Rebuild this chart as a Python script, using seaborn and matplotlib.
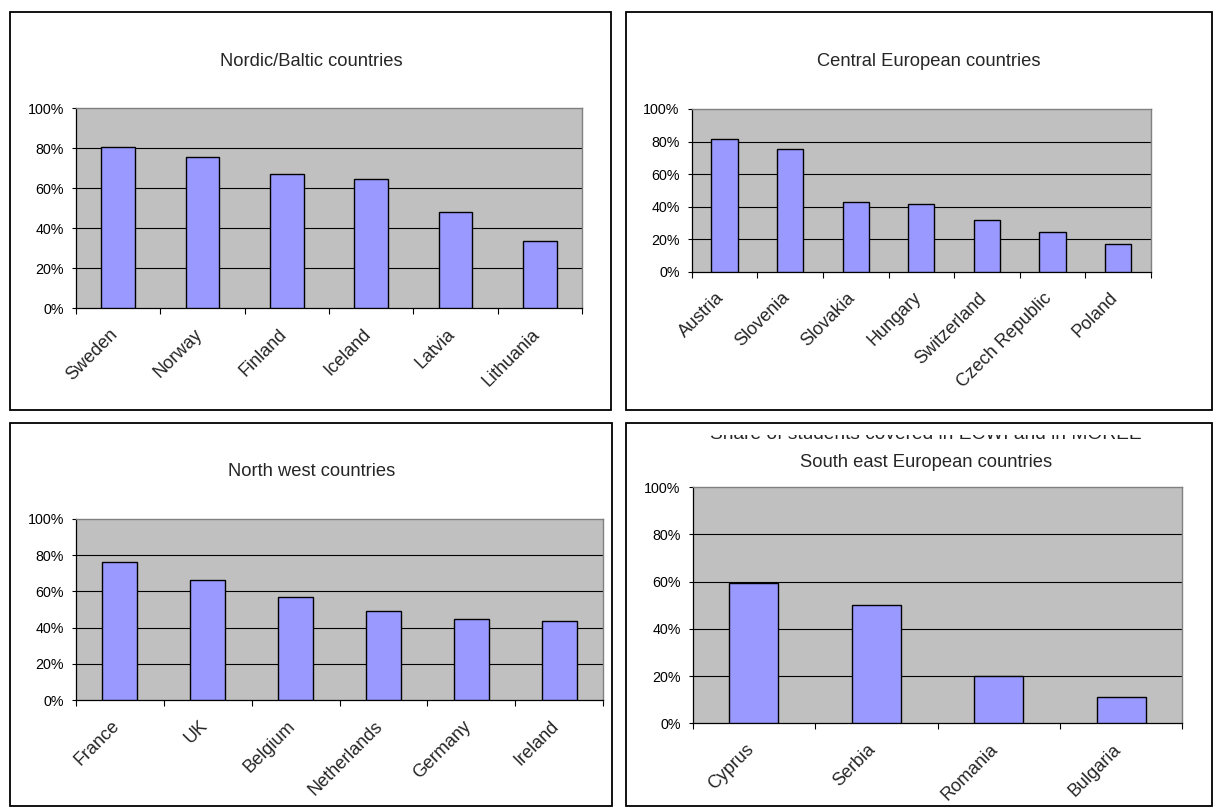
import numpy as np
import pandas as pd
import matplotlib
matplotlib.use("Agg")
import matplotlib.pyplot as plt
from matplotlib.patches import Rectangle
from matplotlib.transforms import Bbox, TransformedBbox, ScaledTranslation
import seaborn as sns

# ---------------- data ----------------
nordic_countries = ["Sweden", "Norway", "Finland", "Iceland", "Latvia", "Lithuania"]
nordic_values = [80.5, 75.8, 67.3, 64.8, 48.0, 33.7]

central_countries = ["Austria", "Slovenia", "Slovakia", "Hungary", "Switzerland",
                     "Czech Republic", "Poland"]
central_values = [81.4, 75.5, 43.1, 41.6, 32.0, 24.7, 17.1]

northwest_countries = ["France", "UK", "Belgium", "Netherlands", "Germany", "Ireland"]
northwest_values = [76.0, 66.1, 56.7, 49.4, 44.6, 43.9]

southeast_countries = ["Cyprus", "Serbia", "Romania", "Bulgaria"]
southeast_values = [59.3, 50.1, 20.2, 11.1]

titles = ["Nordic/Baltic countries", "Central European countries",
          "North west countries", "South east European countries"]
hidden_title = "Share of students covered in ECWI and in MOREE"
y_ticks = [0, 20, 40, 60, 80, 100]
y_tick_labels = ["0%", "20%", "40%", "60%", "80%", "100%"]

# ---------------- style ----------------
sns.set_style("white")
plt.rcParams["font.family"] = ["Liberation Sans", "DejaVu Sans"]

W, H = 1215, 811
fig = plt.figure(figsize=(W / 100, H / 100), dpi=100)
fig.patch.set_facecolor("white")


def fx(px):
    return px / W


def fy(py):
    return 1 - py / H


# outer boxes (pixel coords: x0, y0, x1, y1)
boxes = [(10, 12, 611, 410), (626, 12, 1212, 410),
         (10, 423, 612, 806), (626, 423, 1212, 806)]
for x0, y0, x1, y1 in boxes:
    fig.add_artist(Rectangle((fx(x0), fy(y1)), fx(x1 - x0), (y1 - y0) / H,
                             transform=fig.transFigure, fill=False,
                             edgecolor="black", linewidth=1.3))

# axes rects (left, top, right, bottom) in pixels
axes_px = [(76, 108.3, 582, 308.3), (691.7, 109, 1151, 271.7),
           (76, 519, 603, 700), (692.7, 487, 1182.3, 723.3)]
title_pos = [(311, 61), (929, 61), (312, 471.5), (926, 462.5)]

datasets = [(nordic_countries, nordic_values), (central_countries, central_values),
            (northwest_countries, northwest_values), (southeast_countries, southeast_values)]

for (l, t, r, b), (cats, vals), title, (tx, ty) in zip(axes_px, datasets, titles, title_pos):
    ax = fig.add_axes([fx(l), fy(b), fx(r - l), (b - t) / H])
    df = pd.DataFrame({"country": cats, "value": vals})
    sns.barplot(data=df, x="country", y="value", color="#9999FF", saturation=1,
                edgecolor="black", linewidth=1.0, width=0.4, ax=ax, zorder=3)
    n = len(cats)
    ax.set_facecolor("#C0C0C0")
    ax.set_xlim(-0.5, n - 0.5)
    ax.set_ylim(0, 100)
    ax.set_xlabel("")
    ax.set_ylabel("")
    for yv in y_ticks[1:-1]:
        ax.axhline(yv, color="black", linewidth=0.8, zorder=1)
    ax.set_yticks(y_ticks)
    ax.set_yticklabels(y_tick_labels, fontsize=10.3)
    ax.tick_params(axis="y", direction="out", length=3.2, width=0.8, pad=5.5,
                   left=True, colors="black")
    ax.set_xticks(np.arange(-0.5, n, 1.0))
    ax.set_xticklabels([])
    ax.tick_params(axis="x", which="major", direction="out", length=4.5, width=0.8,
                   bottom=True, colors="black")
    ax.set_xticks(np.arange(n), minor=True)
    ax.set_xticklabels(cats, minor=True, rotation=45, ha="right", va="center",
                       rotation_mode="anchor", fontsize=13)
    ax.tick_params(axis="x", which="minor", length=0, pad=17)
    off = ScaledTranslation(-3 / 100, 0, fig.dpi_scale_trans)
    for lab in ax.get_xticklabels(minor=True):
        lab.set_transform(lab.get_transform() + off)
    for side in ["left", "bottom"]:
        ax.spines[side].set_color("black")
        ax.spines[side].set_linewidth(0.9)
    for side in ["top", "right"]:
        ax.spines[side].set_color("#808080")
        ax.spines[side].set_linewidth(1.0)
    fig.text(fx(tx), fy(ty), title, ha="center", va="center", fontsize=13.2)

# partially hidden title behind the south-east chart
ht = fig.text(fx(926), fy(439), hidden_title, ha="center", va="baseline", fontsize=13.8)
clip = TransformedBbox(Bbox([[fx(627), fy(441)], [fx(1211), fy(434.5)]]), fig.transFigure)
ht.set_clip_box(clip)
ht.set_clip_on(True)

fig.savefig("out.png", dpi=100, facecolor="white")
